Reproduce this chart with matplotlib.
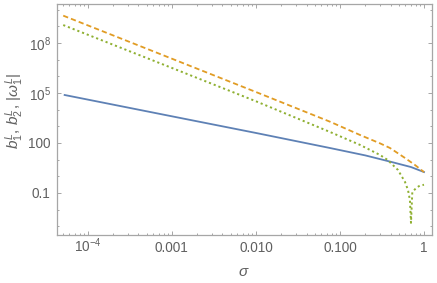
import matplotlib
matplotlib.use("Agg")
import matplotlib.pyplot as plt
from matplotlib.ticker import FixedLocator, FixedFormatter, LogLocator, NullFormatter

plt.rcParams['font.family'] = ['Liberation Sans', 'DejaVu Sans']
plt.rcParams['mathtext.fontset'] = 'custom'
plt.rcParams['mathtext.rm'] = 'Liberation Sans'
plt.rcParams['mathtext.it'] = 'Liberation Sans:italic'
plt.rcParams['mathtext.default'] = 'regular'

# values (log-log)
sigma_b1 = [5.3e-5, 1e-3, 1e-2, 0.076, 0.2, 0.4, 0.7, 1.0]
b1 = [7.6e4, 4.0e3, 400, 50, 18, 7.5, 3.6, 1.8]

sigma_b2 = [5.1e-5, 1e-3, 1e-2, 0.076, 0.174, 0.3, 0.394, 0.594, 0.78, 1.0]
b2 = [4.4e9, 1.15e7, 1.15e5, 1.9e3, 300, 95, 50, 12.6, 4.8, 1.8]

sigma_w1 = [5.1e-5, 1e-3, 1e-2, 0.076, 0.174, 0.30, 0.37, 0.49, 0.594,
            0.645, 0.68, 0.70, 0.726, 0.818, 0.896, 1.0]
w1 = [1.2e9, 3.2e6, 3.2e4, 460, 76, 19, 9.5, 2.4, 0.46,
      0.15, 0.038, 1.6e-3, 0.115, 0.21, 0.28, 0.31]

xticks = [1e-4, 1e-3, 1e-2, 1e-1, 1]
xticklabels = ['$10^{-4}$', '0.001', '0.010', '0.100', '1']
yticks = [0.1, 100, 1e5, 1e8]
yticklabels = ['0.1', '100', '$10^{5}$', '$10^{8}$']
yminor = [10.0 ** k for k in range(-3, 11) if k not in (-1, 2, 5, 8)]

frame_col = '#a6a6a6'
text_col = '#606060'

W, H = 437, 283
fig = plt.figure(figsize=(W / 100, H / 100), dpi=100)
ax = fig.add_axes([57 / W, (H - 235) / H, 375 / W, 231 / H])

ax.plot(sigma_b1, b1, color='#5e81b5', lw=1.3)
ax.plot(sigma_b2, b2, color='#e19c24', lw=1.3, dashes=(2.9, 1.7))
ax.plot(sigma_w1, w1, color='#8fb032', lw=1.4, dashes=(1.1, 1.5))

ax.set_xscale('log')
ax.set_yscale('log')
ax.set_xlim(4.3e-5, 1.245)
ax.set_ylim(3e-4, 2.2e10)

ax.xaxis.set_major_locator(FixedLocator(xticks))
ax.xaxis.set_major_formatter(FixedFormatter(xticklabels))
ax.xaxis.set_minor_locator(LogLocator(base=10, subs=range(2, 10), numticks=20))
ax.xaxis.set_minor_formatter(NullFormatter())
ax.yaxis.set_major_locator(FixedLocator(yticks))
ax.yaxis.set_major_formatter(FixedFormatter(yticklabels))
ax.yaxis.set_minor_locator(FixedLocator(yminor))
ax.yaxis.set_minor_formatter(NullFormatter())

for s in ax.spines.values():
    s.set_color(frame_col)
    s.set_linewidth(0.9)

ax.tick_params(which='both', direction='in', top=True, right=True,
               color=frame_col, width=0.7, labelcolor=text_col, labelsize=9.8)
ax.tick_params(which='major', length=3.0)
ax.tick_params(which='minor', length=1.6)
ax.tick_params(axis='x', which='major', pad=12.2)
ax.tick_params(axis='y', which='major', pad=4.5)
for lab in ax.get_xticklabels():
    lab.set_verticalalignment('baseline')

fig.text(244 / W, 1 - 276 / H, r'$\mathit{\sigma}$', color=text_col,
         fontsize=11, ha='center', va='baseline')
ylab = (r'$\mathit{b}_1^{\mathit{L}}$, $\mathit{b}_2^{\mathit{L}}$, '
        r'$|\mathit{\omega}_1^{\mathit{L}}|$')
fig.text(15 / W, 1 - 111 / H, ylab,
         color=text_col, fontsize=11, rotation=90, ha='center', va='center')

fig.savefig('out.png', dpi=100)
